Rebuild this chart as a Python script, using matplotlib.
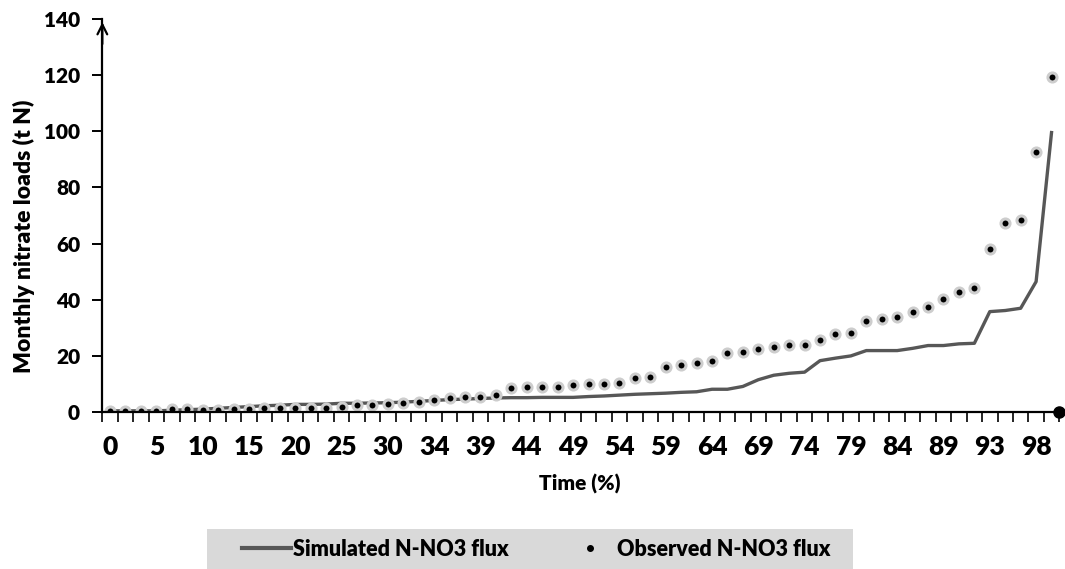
import numpy as np
import matplotlib.pyplot as plt
from matplotlib.lines import Line2D
from matplotlib.patches import Rectangle

plt.rcParams['font.family'] = ['Lato', 'DejaVu Sans']
plt.rcParams['font.weight'] = 'heavy'

# monthly N-NO3 loads (t N), sorted ascending (duration curve)
simulated = [0.3, 0.3, 0.3, 0.3, 0.5, 0.7, 0.9, 1.2, 1.5, 1.8,
             2.1, 2.3, 2.6, 2.6, 2.7, 3.0, 3.0, 3.1, 3.2, 3.4,
             3.7, 4.0, 4.3, 4.5, 4.7, 4.9, 5.0, 5.0, 5.1, 5.1,
             5.1, 5.4, 5.6, 5.9, 6.2, 6.4, 6.6, 6.9, 7.1, 8.0,
             8.0, 9.0, 11.4, 13.0, 13.7, 14.1, 18.2, 19.1, 19.9, 21.8,
             21.8, 21.8, 22.6, 23.6, 23.6, 24.2, 24.4, 35.7, 36.1, 36.9,
             46.4, 99.6]
observed = [0.25, 0.36, 0.36, 0.36, 0.85, 0.85, 0.7, 0.7, 1.07, 1.07,
            1.4, 1.3, 1.4, 1.4, 1.4, 1.8, 2.3, 2.4, 2.75, 3.2,
            3.6, 4.3, 4.8, 5.25, 5.25, 6.1, 8.4, 8.8, 8.8, 8.7,
            9.6, 10.0, 10.0, 10.4, 11.9, 12.3, 16.1, 16.6, 17.4, 18.1,
            21.0, 21.3, 22.2, 23.1, 23.9, 23.9, 25.5, 27.75, 28.0, 32.5,
            32.9, 33.7, 35.4, 37.5, 40.25, 42.6, 44.3, 58.2, 67.3, 68.5,
            92.5, 119.6]
# time (%) labels, shown on every third month
time_labels = ["0", "5", "10", "15", "20", "25", "30", "34", "39", "44", "49",
               "54", "59", "64", "69", "74", "79", "84", "89", "93", "98"]
label_step = 3
y_ticks = [0, 20, 40, 60, 80, 100, 120, 140]

line_col = '#575757'

fig = plt.figure(figsize=(10.65, 5.69), dpi=100)
ax = fig.add_axes([0.0961, 0.2765, 0.8985, 0.6895])

x = np.arange(len(simulated))
ax.plot(x, simulated, color=line_col, lw=2.4, solid_joinstyle='round', zorder=2)
ax.plot(x, observed, ls='none', marker='o', ms=6.5, mfc='black', mec='#cdcdcd', mew=2.2, zorder=3)

ax.set_xlim(-0.5, len(x) - 0.5)
ax.set_ylim(0, 140)

for s in ['top', 'right']:
    ax.spines[s].set_visible(False)
for s in ['left', 'bottom']:
    ax.spines[s].set_linewidth(1.6)
    ax.spines[s].set_zorder(4)

ax.set_yticks(y_ticks)
ax.tick_params(axis='y', length=7, width=1.4, pad=9, labelsize=15)
ax.set_xticks(x[::label_step])
ax.set_xticklabels(time_labels)
ax.set_xticks(np.arange(-0.5, len(x), 1), minor=True)
ax.tick_params(axis='x', which='major', length=0, pad=17, labelsize=19)
ax.tick_params(axis='x', which='minor', length=7, width=1.2)

# arrow at top of y axis, dot at end of x axis
ax.annotate('', xy=(0, 1.0), xycoords='axes fraction', xytext=(0, 0.93),
            arrowprops=dict(arrowstyle='->,head_length=0.7,head_width=0.35', lw=1.6, color='black'))
ax.plot(1, 0, marker='o', ms=8, color='black', transform=ax.transAxes, clip_on=False, zorder=5)

fig.text(24 / 1065, 1 - 236 / 569, 'Monthly nitrate loads (t N)', rotation=90,
         ha='center', va='center', fontsize=16.5)
fig.text(580 / 1065, 1 - 484 / 569, 'Time (%)', ha='center', va='center', fontsize=15)

# legend band
fig.patches.append(Rectangle((207 / 1065, 0), 646 / 1065, 40 / 569, transform=fig.transFigure,
                             facecolor='#d9d9d9', edgecolor='none'))
handles = [Line2D([], [], color=line_col, lw=3),
           Line2D([], [], ls='none', marker='o', ms=4, color='black')]
fig.legend(handles, ['Simulated N-NO3 flux', 'Observed N-NO3 flux'], loc='center',
           bbox_to_anchor=(536 / 1065, 1 - 549 / 569), ncol=2, frameon=False, fontsize=15.5,
           handlelength=2.3, handletextpad=0.1, columnspacing=2.6)

fig.savefig('out.png', dpi=100)
